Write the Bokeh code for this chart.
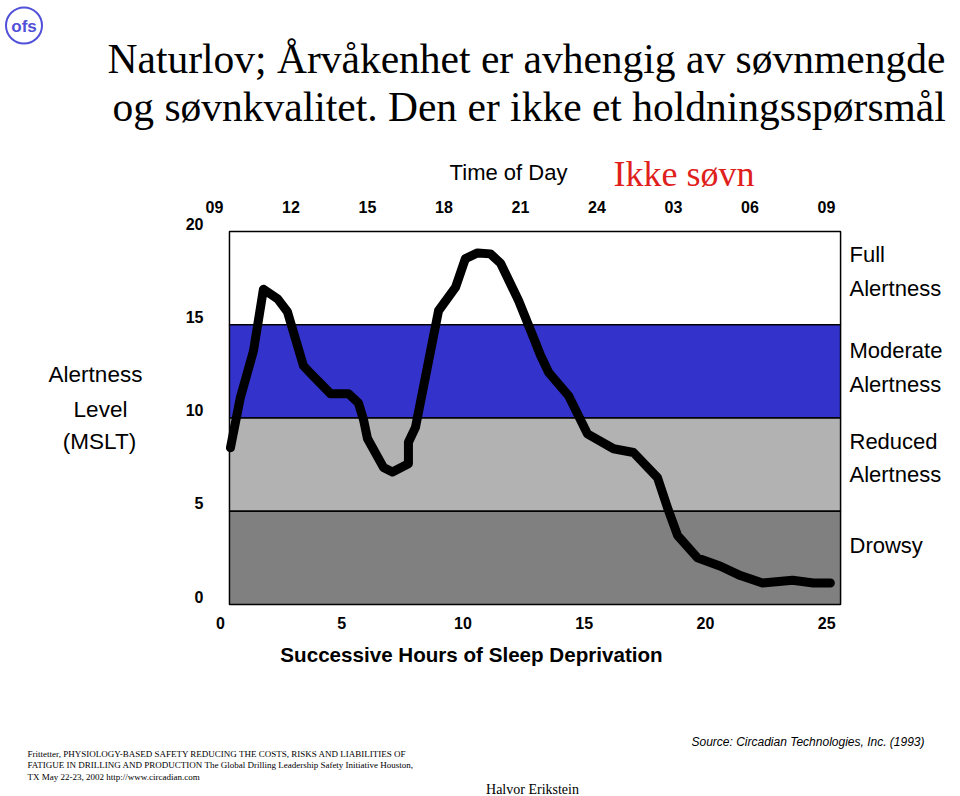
from bokeh.plotting import figure
from bokeh.models import Range1d, ColumnDataSource
from bokeh.core.properties import value
from bokeh.embed import file_html
from bokeh.resources import INLINE

# ---- data ----
hours = [0.41, 0.82, 1.36, 1.77, 2.35, 2.76, 3.42, 3.71, 4.54, 5.28, 5.69, 5.90, 6.06,
         6.72, 7.09, 7.75, 7.75, 8.04, 8.99, 9.69, 10.10, 10.60, 11.13, 11.55, 12.29,
         12.91, 13.20, 13.53, 14.35, 15.13, 16.21, 17.03, 18.02, 18.47, 18.85, 19.67,
         20.62, 21.44, 22.35, 23.59, 24.45, 25.15]
alertness = [8.4, 11.1, 13.6, 16.9, 16.4, 15.7, 12.8, 12.4, 11.3, 11.3, 10.8, 9.9, 8.9,
             7.35, 7.1, 7.55, 8.7, 9.5, 15.75, 17.0, 18.55, 18.85, 18.8, 18.3, 16.3,
             14.3, 13.35, 12.45, 11.2, 9.15, 8.35, 8.15, 6.8, 5.05, 3.7, 2.5,
             2.05, 1.55, 1.15, 1.3, 1.15, 1.15]

band_bottoms = [15, 10, 5, 0]
band_tops = [20, 15, 10, 5]
band_colors = ["#FFFFFF", "#3333CC", "#B2B2B2", "#808080"]
band_names = [["Full", "Alertness"], ["Moderate", "Alertness"], ["Reduced", "Alertness"], ["Drowsy"]]

x_ticks = [0, 5, 10, 15, 20, 25]
x_tick_labels = ["0", "5", "10", "15", "20", "25"]
y_ticks = [0, 5, 10, 15, 20]
y_tick_labels = ["0", "5", "10", "15", "20"]
tod_ticks = [0, 3, 6, 9, 12, 15, 18, 21, 24]
tod_labels = ["09", "12", "15", "18", "21", "24", "03", "06", "09"]

SANS = "Liberation Sans"
SERIF = "Liberation Serif"

W, H = 956, 796
# default ranges: page pixels; y grows downward
p = figure(width=W, height=H, output_backend="svg", toolbar_location=None,
           x_range=Range1d(0, W), y_range=Range1d(H, 0),
           min_border=0, x_axis_location=None, y_axis_location=None)
p.outline_line_color = None
p.grid.visible = False
p.background_fill_color = "white"
p.border_fill_color = "white"

# data scales: hours (bottom), time of day (top), alertness (left)
PXH, X0 = 24.25, 220.0    # px per hour, px of hour 0
PYV, Y0 = 18.65, 604.0    # px per alertness unit, px of 0
PXT, T0 = 25.5, 214.0     # px per clock hour, px of 09:00
p.extra_x_ranges = {
    "h": Range1d((0 - X0) / PXH, (W - X0) / PXH),
    "tod": Range1d((0 - T0) / PXT, (W - T0) / PXT),
}
p.extra_y_ranges = {"alert": Range1d((Y0 - H) / PYV, Y0 / PYV)}

# bands
src = ColumnDataSource(dict(left=[0.37] * 4, right=[25.57] * 4, bottom=band_bottoms,
                            top=band_tops, color=band_colors))
p.quad(left="left", right="right", bottom="bottom", top="top", fill_color="color",
       line_color="black", line_width=1.5, source=src,
       x_range_name="h", y_range_name="alert")

# curve
p.line(hours, alertness, line_color="black", line_width=9, line_join="round",
       line_cap="round", x_range_name="h", y_range_name="alert")

tick_kw = dict(text_font=value(SANS), text_font_style="bold", text_font_size="16px",
               text_color="black", text_baseline="middle")
# bottom ticks
p.text(x=x_ticks, y=[622.5] * len(x_ticks), text=x_tick_labels, text_align="center",
       x_range_name="h", **tick_kw)
# left ticks
p.text(x=[203] * len(y_ticks), y=y_ticks, text=y_tick_labels, text_align="right",
       y_offset=-8, y_range_name="alert", **tick_kw)
# top ticks (time of day)
p.text(x=tod_ticks, y=[206.5] * len(tod_ticks), text=tod_labels, text_align="center",
       x_range_name="tod", **tick_kw)

def lab(x, y, text, size, font=SANS, style="normal", color="black", align="left", baseline="middle"):
    p.text(x=[x], y=[y], text=[text], text_font=value(font), text_font_size=size,
           text_font_style=style, text_color=color, text_align=align, text_baseline=baseline)

# title
lab(107, 58, "Naturlov; Årvåkenhet er avhengig av søvnmengde", "41.5px", font=SERIF, baseline="alphabetic")
lab(112, 106, "og søvnkvalitet. Den er ikke et holdningsspørsmål", "41.5px", font=SERIF, baseline="alphabetic")

lab(508, 172, "Time of Day", "22px", align="center")
lab(613, 173, "Ikke søvn", "36px", font=SERIF, color="#E0201B", baseline="alphabetic")

# left axis title
lab(95, 374, "Alertness", "22.5px", align="center")
lab(100, 409, "Level", "22.5px", align="center")
lab(99, 441, "(MSLT)", "22.5px", align="center")

# right band names
ys = [[254, 288], [350, 384], [441, 474], [545]]
for names, yy in zip(band_names, ys):
    for n, y in zip(names, yy):
        lab(849, y, n, "22px")

lab(471, 654, "Successive Hours of Sleep Deprivation", "20.6px", style="bold", align="center")

lab(691, 741, "Source: Circadian Technologies, Inc. (1993)", "12px", style="italic")

ref_lines = ["Frittetter, PHYSIOLOGY-BASED SAFETY REDUCING THE COSTS, RISKS AND LIABILITIES OF",
             "FATIGUE IN DRILLING AND PRODUCTION The Global Drilling Leadership Safety Initiative  Houston,",
             "TX May 22-23, 2002 http://www.circadian.com"]
for i, t in enumerate(ref_lines):
    lab(27, 753 + 11.5 * i, t, "9px", font=SERIF)

lab(532, 789, "Halvor Erikstein", "14px", font=SERIF, align="center")

# logo
p.circle(x=[23.5], y=[25], radius=18, fill_color=None, line_color="#5050D8", line_width=2)
lab(23.5, 26, "ofs", "17px", style="bold", color="#5050D8", align="center")

open("out.html", "w").write(file_html(p, INLINE))
